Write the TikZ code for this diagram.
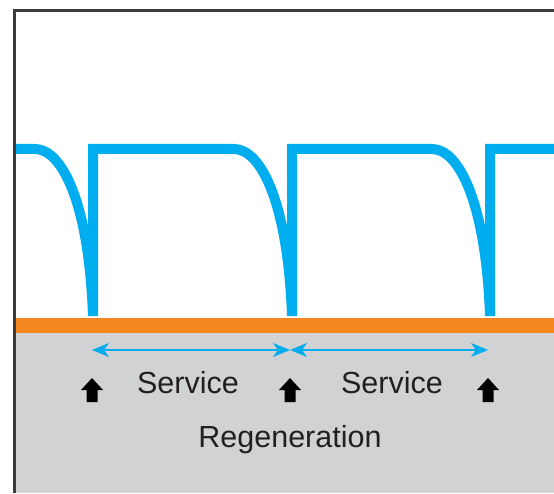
\documentclass[tikz,border=0pt]{standalone}
\usepackage{fontspec}
\setmainfont{Liberation Sans}
\usetikzlibrary{arrows.meta}
\definecolor{wave}{HTML}{00AEEF}
\definecolor{band}{HTML}{F58720}
\definecolor{floor}{HTML}{D1D2D4}
\definecolor{frame}{HTML}{3C3C3C}
\definecolor{ink}{HTML}{231F20}
\tikzset{
  waveline/.style={wave, line width=10pt, line join=miter},
  span/.style={wave, line width=1.2pt, {Stealth[length=17pt,width=14pt,inset=5pt]}-{Stealth[length=17pt,width=14pt,inset=5pt]}},
  label/.style={text=ink, font=\fontsize{30.5}{36}\selectfont, inner sep=0pt},
  pics/regen/.style={code={
    \fill[black] (0,0) -- (11,-12) -- (5.5,-12) -- (5.5,-24) -- (-5.5,-24) -- (-5.5,-12) -- (-11,-12) -- cycle;
  }}
}
\begin{document}
\begin{tikzpicture}[x=1pt,y=1pt]
\useasboundingbox (0,0) rectangle (554,493);
% baseline geometry (y measured upward from the bottom edge)
\def\top{344}
\def\base{175}
% grey floor
\fill[floor] (15,0) rectangle (554,160);
% blue service/regeneration waveform
\begin{scope}
\clip (15,0) rectangle (554,493);
\draw[waveline] (10,\top) -- (35,\top)
  .. controls (62,\top) and (89,290) .. (93,\base+2)
  -- (93,\top) -- (234,\top)
  .. controls (261,\top) and (288,290) .. (292,\base+2)
  -- (292,\top) -- (432,\top)
  .. controls (459,\top) and (486,290) .. (490,\base+2)
  -- (490,\top) -- (560,\top);
\end{scope}
% orange band
\fill[band] (15,160) rectangle (554,\base);
% frame lines
\draw[frame, line width=2.5pt] (14.7,0) -- (14.7,482.7) -- (554,482.7);
% span markers
\coordinate (s0) at (92,143);
\coordinate (s1) at (290,143);
\coordinate (s2) at (488,143);
\draw[span] (s0) -- (s1);
\draw[span] (s1) -- (s2);
% regeneration arrows
\pic at (92,115) {regen};
\pic at (290,115) {regen};
\pic at (488,115) {regen};
% labels
\node[label] (svc1) at (188,110) {Service};
\node[label] (svc2) at (392,110) {Service};
\node[label] (regen) at (290,53) {Regeneration};
\end{tikzpicture}
\end{document}
